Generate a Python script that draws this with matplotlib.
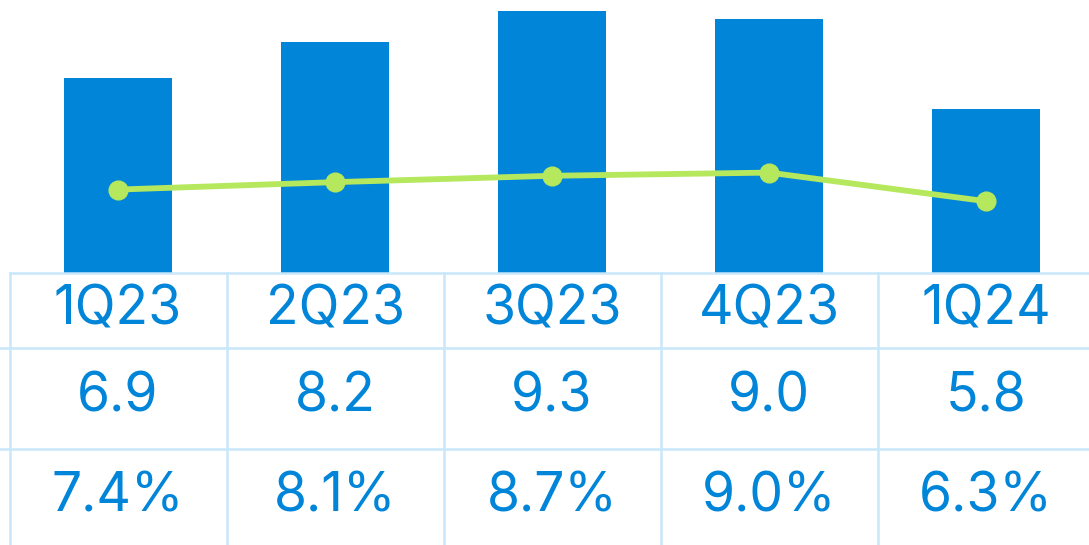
import matplotlib.pyplot as plt

quarters = ['1Q23', '2Q23', '3Q23', '4Q23', '1Q24']
values = [6.9, 8.2, 9.3, 9.0, 5.8]
margins = [7.4, 8.1, 8.7, 9.0, 6.3]
value_labels = ['6.9', '8.2', '9.3', '9.0', '5.8']
margin_labels = ['7.4%', '8.1%', '8.7%', '9.0%', '6.3%']

blue = '#0085d9'
green = '#b5e85c'
grid = '#c8e7fb'

plt.rcParams['font.family'] = ['Inter', 'DejaVu Sans']

W, H = 1089, 545
fig = plt.figure(figsize=(W / 100, H / 100), dpi=100)

# bar area: bottom of bars at pixel row 273
ax = fig.add_axes([0, (H - 273) / H, 1, 273 / H])
x = list(range(len(quarters)))
ax.bar(x, values, width=0.498, color=blue, zorder=2)
ax.set_xlim(-118 / 217, (W - 118) / 217)
ax.set_ylim(0, 273 / 28.2)
ax.axis('off')

ax2 = ax.twinx()
ax2.plot(x, margins, color=green, lw=4.2, marker='o', ms=13.5, zorder=3)
ax2.set_ylim(-5 / 10.6, 268 / 10.6)
ax2.axis('off')

# table below, in pixel rows
tab = fig.add_axes([0, 0, 1, 1], zorder=0)
tab.set_xlim(ax.get_xlim())
tab.set_ylim(H, 0)
tab.axis('off')
n = len(quarters)
tab.plot([-0.5, 6], [273, 273], color=grid, lw=1.8)
for yy in [348, 449]:
    tab.plot([-1, 6], [yy, yy], color=grid, lw=1.8)
for i in range(n):
    tab.plot([i - 0.5, i - 0.5], [273, H], color=grid, lw=1.8)

fs = 38.5
for i in range(n):
    tab.text(i, 310, quarters[i], ha='center', va='center', color=blue, fontsize=fs)
    tab.text(i, 397, value_labels[i], ha='center', va='center', color=blue, fontsize=fs)
    tab.text(i, 497, margin_labels[i], ha='center', va='center', color=blue, fontsize=fs)

fig.savefig('out.png', dpi=100)
